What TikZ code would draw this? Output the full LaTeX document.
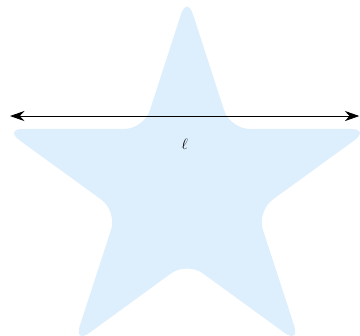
\documentclass[tikz,border=0pt]{standalone}
\usetikzlibrary{arrows.meta,calc}
\definecolor{starfill}{HTML}{DDEEFD}
\tikzset{
  starshape/.style={fill=starfill, rounded corners=15.5pt},
  span/.style={{Stealth[length=4mm, width=2.8mm]}-{Stealth[length=4mm, width=2.8mm]}, line width=0.6pt},
  lab/.style={font=\large, below=5mm},
}

\begin{document}
\begin{tikzpicture}
\useasboundingbox (0,0) rectangle (10,9.333);

% the star, outer radius 5.35, inner 2.04
\begin{scope}[shift={(5.194,4.1)}]
\fill[starshape] ($(54:2.04)!0.5!(90:5.35)$)
  \foreach \a in {90,162,234,306,18} { -- (\a:5.35) -- ({\a+36}:2.04) } -- cycle;
\end{scope}

\coordinate (lft) at (0.28,6.11);
\coordinate (rgt) at (9.98,6.11);
\draw[span] (lft) -- node[lab] {$\ell$} (rgt);

\end{tikzpicture}
\end{document}
